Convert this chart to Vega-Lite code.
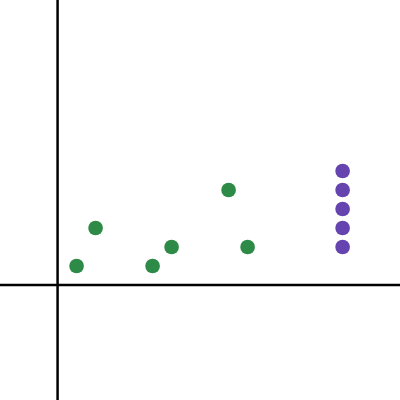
{
  "$schema": "https://vega.github.io/schema/vega-lite/v6.json",
  "width": 400,
  "height": 400,
  "padding": 0,
  "autosize": {"type": "none"},
  "background": "white",
  "config": {"view": {"stroke": null}},
  "datasets": {
    "pts": [
      {"x": 1, "y": 1, "g": "a"},
      {"x": 2, "y": 3, "g": "a"},
      {"x": 5, "y": 1, "g": "a"},
      {"x": 6, "y": 2, "g": "a"},
      {"x": 9, "y": 5, "g": "a"},
      {"x": 10, "y": 2, "g": "a"},
      {"x": 15, "y": 2, "g": "b"},
      {"x": 15, "y": 3, "g": "b"},
      {"x": 15, "y": 4, "g": "b"},
      {"x": 15, "y": 5, "g": "b"},
      {"x": 15, "y": 6, "g": "b"}
    ]
  },
  "layer": [
    {
      "data": {"values": [{"v": 0}]},
      "mark": {"type": "rule", "color": "black", "strokeWidth": 2.5},
      "encoding": {
        "x": {"field": "v", "type": "quantitative", "scale": {"domain": [-3.03, 18.02], "nice": false, "zero": false}, "axis": null}
      }
    },
    {
      "data": {"values": [{"v": 0}]},
      "mark": {"type": "rule", "color": "black", "strokeWidth": 2.5},
      "encoding": {
        "y": {"field": "v", "type": "quantitative", "scale": {"domain": [-6.05, 15], "nice": false, "zero": false}, "axis": null}
      }
    },
    {
      "data": {"name": "pts"},
      "mark": {"type": "circle", "size": 215, "opacity": 1},
      "encoding": {
        "x": {"field": "x", "type": "quantitative", "scale": {"domain": [-3.03, 18.02], "nice": false, "zero": false}, "axis": null},
        "y": {"field": "y", "type": "quantitative", "scale": {"domain": [-6.05, 15], "nice": false, "zero": false}, "axis": null},
        "color": {"field": "g", "type": "nominal", "scale": {"domain": ["a", "b"], "range": ["#2e8b47", "#6644b0"]}, "legend": null}
      }
    }
  ]
}
